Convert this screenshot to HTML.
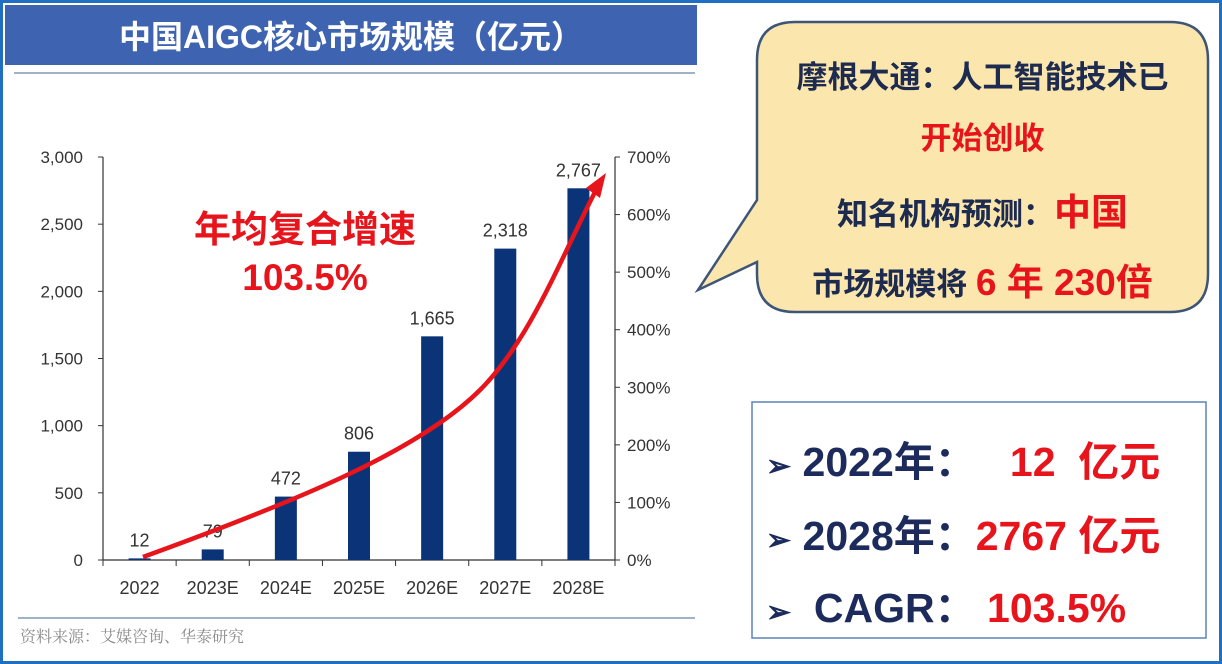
<!DOCTYPE html>
<html><head><meta charset="utf-8"><style>
body{margin:0;width:1222px;height:664px;overflow:hidden;background:#fff;font-family:"Liberation Sans","Noto Sans CJK SC",sans-serif}
#frame{position:absolute;left:0;top:0;width:1216px;height:658px;border:3px solid #1f6fc2}
.t{position:absolute;white-space:nowrap;font-weight:bold}
</style></head><body>
<div id="frame"></div>
<div style="position:absolute;left:5px;top:5px;width:692px;height:60px;background:#3e64b1"></div>
<div class="t" style="left:5px;width:692px;top:12px;text-align:center;color:#fff;font-size:32px">中国AIGC核心市场规模（亿元）</div>
<svg width="1222" height="664" style="position:absolute;left:0;top:0" id="chart">
<line x1="14" y1="73" x2="695" y2="73" stroke="#9fb3c8" stroke-width="2"/>
<line x1="18" y1="618" x2="695" y2="618" stroke="#9fb3c8" stroke-width="2"/>
<text x="20" y="642" font-size="16" fill="#8a8a8a" font-family="Noto Serif CJK SC,serif">资料来源：艾媒咨询、华泰研究</text>
</svg>
<div class="t" style="left:165px;top:206px;width:280px;text-align:center;color:#e8141b;font-size:37px;line-height:48px">年均复合增速<br>103.5%</div>
<svg width="1222" height="664" style="position:absolute;left:0;top:0">
<path d="M795,22 H1170 Q1208,22 1208,60 V274 Q1208,312 1170,312 H795 Q757,312 757,274 V262 L698,290 L757,200 V60 Q757,22 795,22 Z" fill="#fbe6ad" stroke="#3d5677" stroke-width="2.5"/>
<rect x="752" y="402" width="454" height="236" fill="#fff" stroke="#5b82ba" stroke-width="1.5"/>
</svg>
<div class="t" style="left:757px;width:451px;text-align:center;top:52px;font-size:31px;color:#1c2b4f">摩根大通：人工智能技术已</div>
<div class="t" style="left:757px;width:451px;text-align:center;top:113px;font-size:31px;color:#e8141b">开始创收</div>
<div class="t" style="left:757px;width:451px;text-align:center;top:182px;font-size:31px;color:#1c2b4f">知名机构预测：<span style="color:#e8141b;font-size:37px">中国</span></div>
<div class="t" style="left:757px;width:451px;text-align:center;top:252px;font-size:31px;color:#1c2b4f">市场规模将 <span style="color:#e8141b;font-size:37px">6 年 230倍</span></div>
<div class="t" style="left:766px;top:428px;font-size:41px;color:#1c2b5c"><span style="font-size:30px">➢</span> 2022年：<span style="color:#e8141b">&nbsp;&nbsp; 12&nbsp; 亿元</span></div>
<div class="t" style="left:766px;top:502px;font-size:41px;color:#1c2b5c"><span style="font-size:30px">➢</span> 2028年：<span style="color:#e8141b">2767 亿元</span></div>
<div class="t" style="left:766px;top:574px;font-size:41px;color:#1c2b5c"><span style="font-size:30px">➢</span>&nbsp; CAGR： <span style="color:#e8141b">103.5%</span></div>
<script>
const categories=["2022","2023E","2024E","2025E","2026E","2027E","2028E"];
const values=[12,79,472,806,1665,2318,2767];
const valueLabels=["12","79","472","806","1,665","2,318","2,767"];
const leftTicks=[0,500,1000,1500,2000,2500,3000];
const rightTicks=[0,100,200,300,400,500,600,700];
const NS="http://www.w3.org/2000/svg";
const svg=document.getElementById('chart');
const x0=103,x1=615,y0=560,yTop=157;
const bw=(x1-x0)/categories.length;
const yL=v=>y0-(v/3000)*(y0-yTop);
const yR=v=>y0-(v/700)*(y0-yTop);
const xC=i=>x0+bw*(i+0.5);
function el(tag,a,txt){const e=document.createElementNS(NS,tag);for(const k in a)e.setAttribute(k,a[k]);if(txt!==undefined)e.textContent=txt;svg.appendChild(e);return e;}
let ax=el('line',{x1:x0,y1:yTop,x2:x0,y2:y0,stroke:'#333','stroke-width':1.2});

let ax2=el('line',{x1:x1,y1:yTop,x2:x1,y2:y0,stroke:'#333','stroke-width':1.2});

let bx=el('line',{x1:x0,y1:y0,x2:x1,y2:y0,stroke:'#333','stroke-width':1.2});

leftTicks.forEach(v=>{const y=yL(v);el('line',{x1:x0-5,y1:y,x2:x0,y2:y,stroke:'#333'});
 const t=el('text',{x:x0-20,y:y+6,'text-anchor':'end','font-size':17,fill:'#333'},v.toLocaleString('en-US'));
 });
rightTicks.forEach(v=>{const y=yR(v);el('line',{x1:x1,y1:y,x2:x1+5,y2:y,stroke:'#333'});
 const t=el('text',{x:x1+12,y:y+6,'font-size':17,fill:'#333'},v+'%');
 });
for(let i=0;i<=categories.length;i++){const x=x0+bw*i;el('line',{x1:x,y1:y0,x2:x,y2:y0+6,stroke:'#333'});}
categories.forEach((c,i)=>{
 const b=el('rect',{x:xC(i)-11,y:yL(values[i]),width:22,height:y0-yL(values[i]),fill:'#0b3478'});
 
 const l=el('text',{x:xC(i),y:yL(values[i])-12,'text-anchor':'middle','font-size':18,fill:'#333'},valueLabels[i]);
 
 const t=el('text',{x:xC(i),y:y0+34,'text-anchor':'middle','font-size':18,fill:'#333'},c);
 
});
const arr=el('path',{d:'M143,557 C300,500 420,450 480,390 C530,340 560,260 596,190',fill:'none',stroke:'#e8141b','stroke-width':4.5});

const head=el('path',{d:'M606,173 L600,198 L586,188 Z',fill:'#e8141b'});

</script>
</body></html>
